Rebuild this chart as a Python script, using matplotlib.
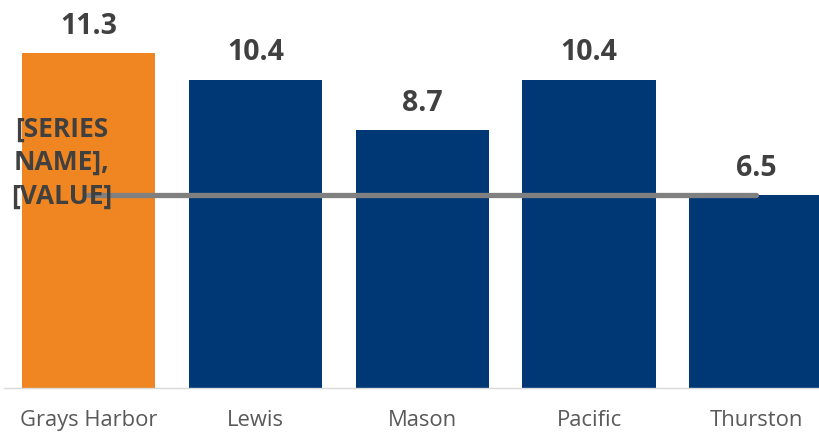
import matplotlib
matplotlib.use("Agg")
import matplotlib.pyplot as plt
import numpy as np

# data
counties = ["Grays Harbor", "Lewis", "Mason", "Pacific", "Thurston"]
values = [11.3, 10.4, 8.7, 10.4, 6.5]
bar_colors = ["#EF8622", "#003876", "#003876", "#003876", "#003876"]
average = [6.5, 6.5, 6.5, 6.5, 6.5]
series_label = "[SERIES\nNAME],\n[VALUE]"

fig = plt.figure(figsize=(8.2, 4.32), dpi=100)
ax = fig.add_axes((4 / 820, 44 / 432, 1 - 4 / 820, 388 / 432))

x = np.arange(len(counties))
ax.bar(x, values, width=0.8, color=bar_colors, zorder=2)
ax.plot(x, average, color="#808080", linewidth=3.8, solid_capstyle="round", zorder=3)

for xi, v in zip(x, values):
    ax.text(xi, v + 0.42, f"{v:.1f}", ha="center", va="bottom",
            fontsize=20.5, fontweight="bold", color="#404040", family="Open Sans")

ax.text(-0.16, 7.6, series_label, ha="center", va="center", fontsize=19,
        fontweight="bold", color="#404040", family="Open Sans",
        linespacing=1.3, zorder=4)

ax.set_xlim(-0.506, 4.383)
ax.set_ylim(0, 13.09)
ax.set_xticks(x)
ax.set_xticklabels(counties, fontsize=15.8, color="#595959", family="Open Sans")
ax.tick_params(axis="x", length=0, pad=16)
ax.set_yticks([])
for side in ["top", "right", "left"]:
    ax.spines[side].set_visible(False)
ax.spines["bottom"].set_color("#D9D9D9")
ax.spines["bottom"].set_linewidth(1)

fig.savefig("out.png", dpi=100)
